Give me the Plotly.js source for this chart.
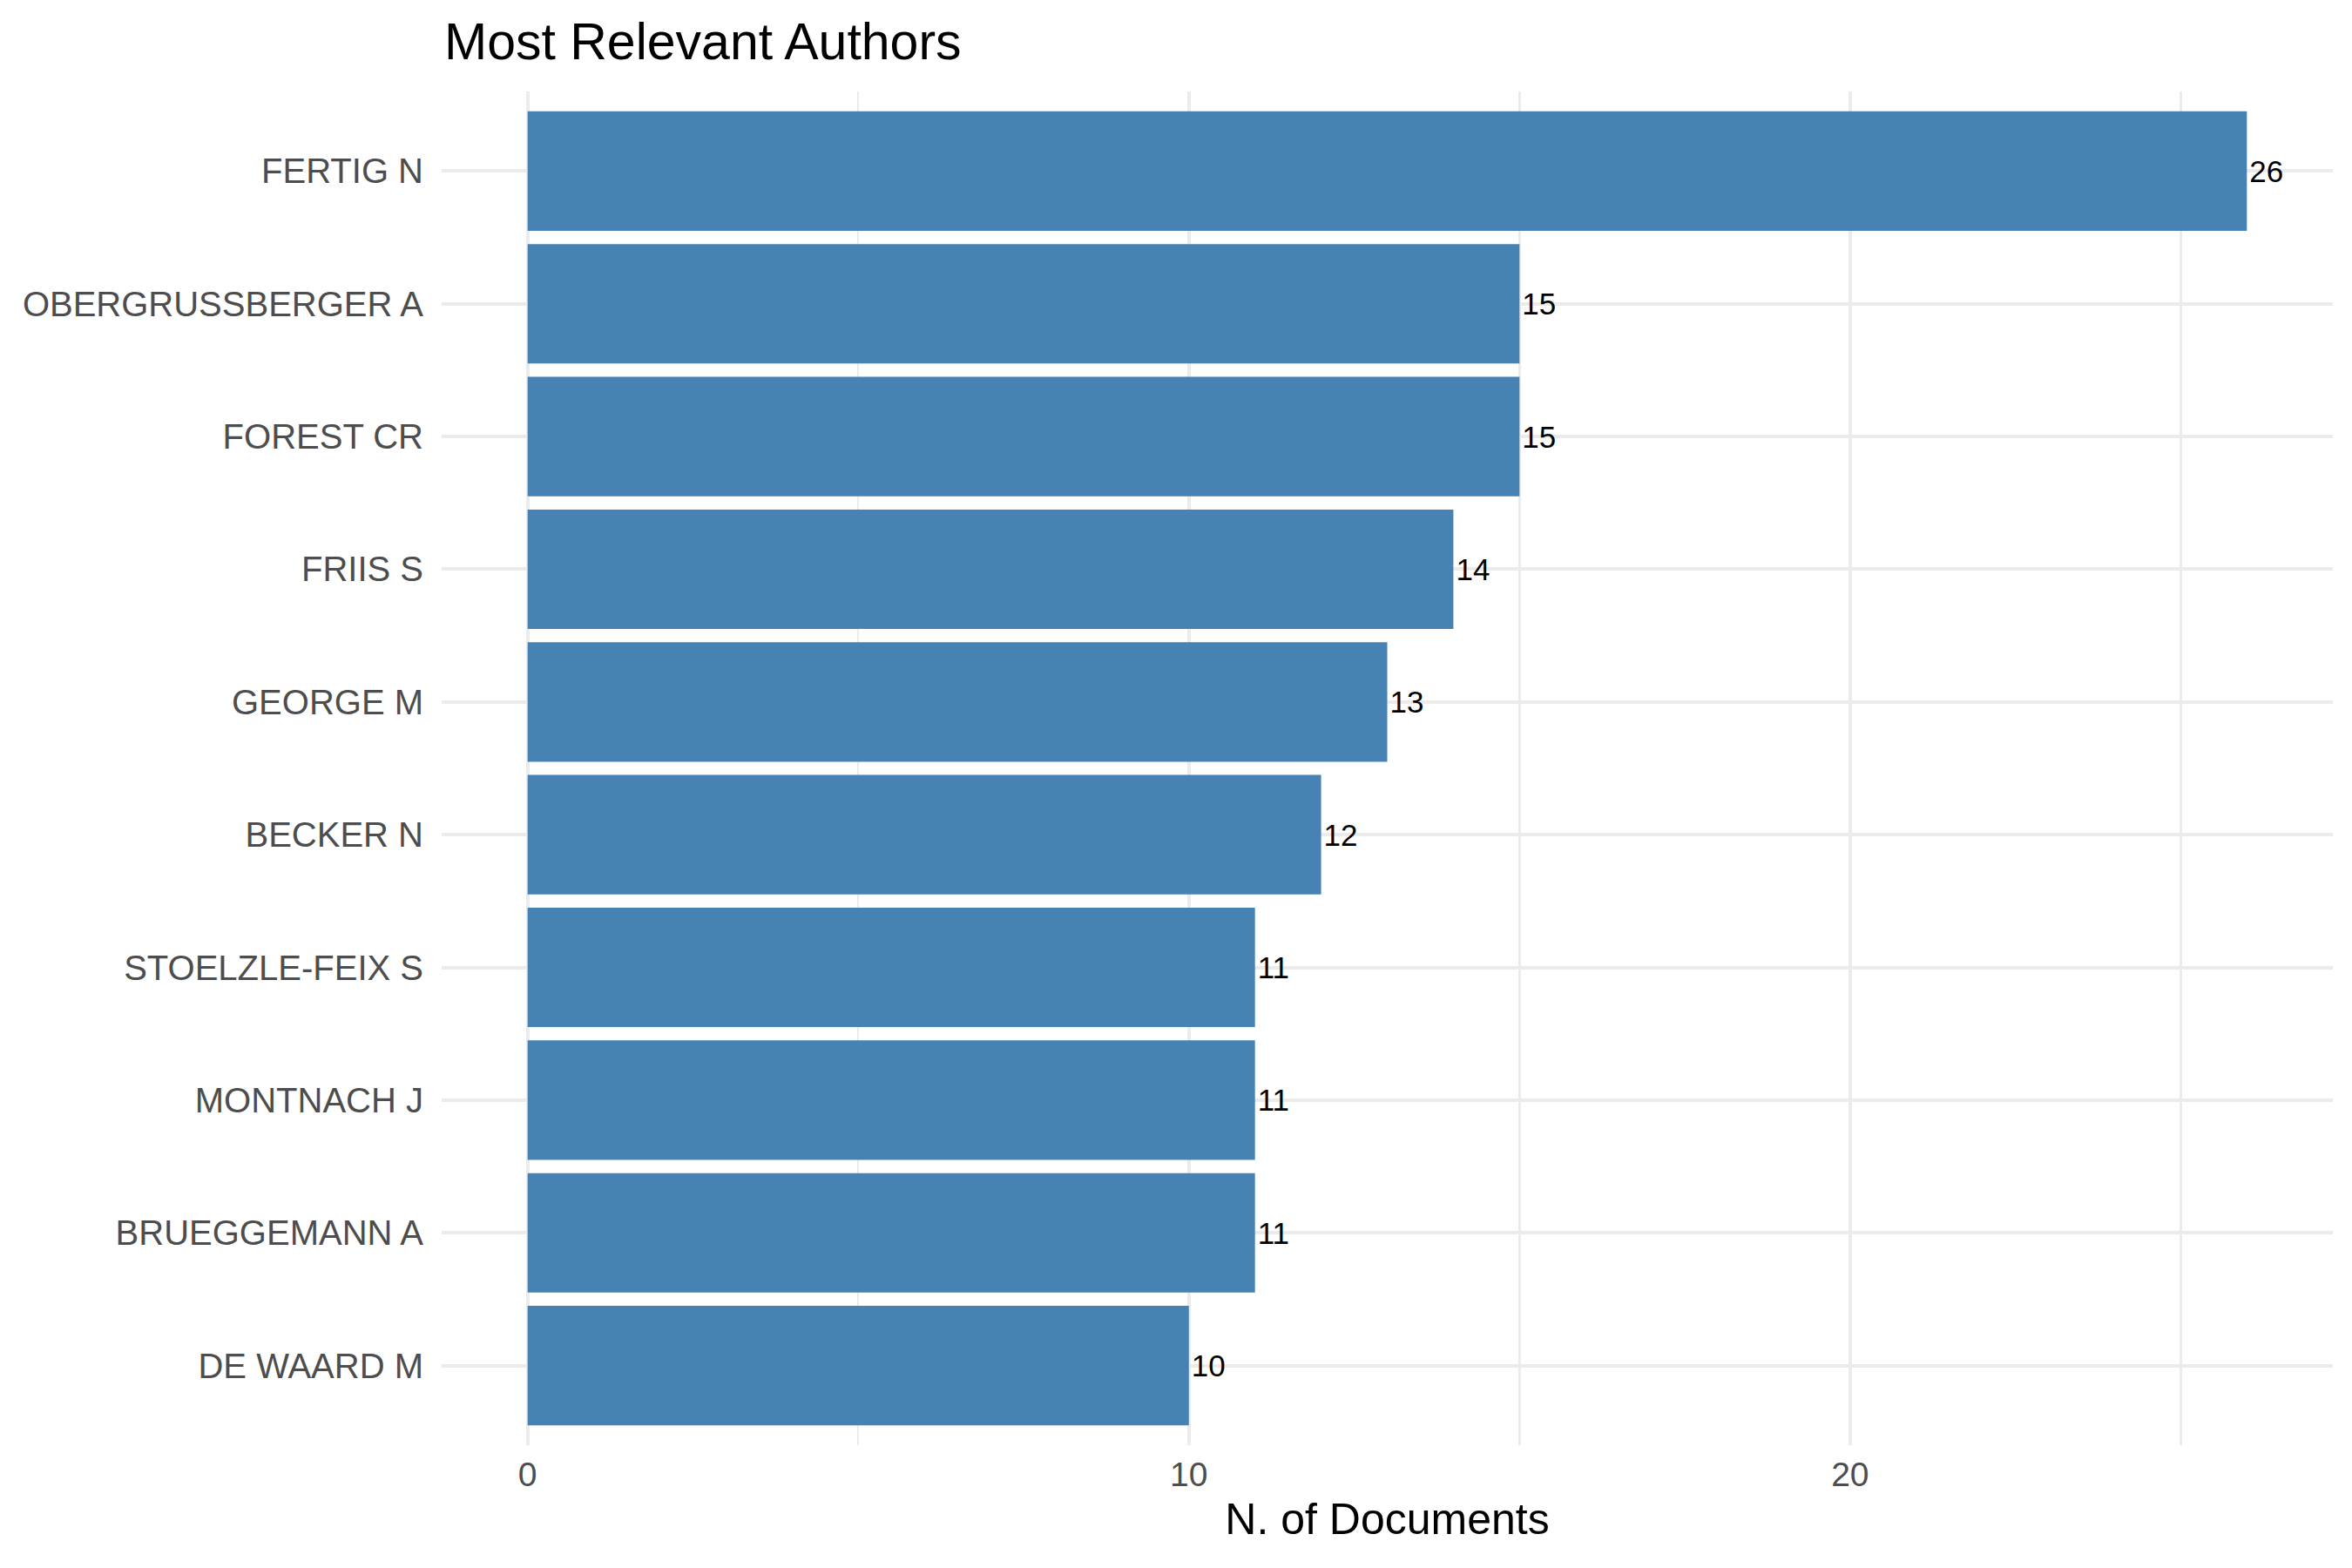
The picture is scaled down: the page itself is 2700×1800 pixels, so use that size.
<!DOCTYPE html>
<html>
<head>
<meta charset="utf-8">
<script src="https://cdn.plot.ly/plotly-3.0.1.min.js"></script>
<style>
  html, body { margin: 0; padding: 0; background: #ffffff; }
  #chart { width: 2700px; height: 1800px; }
</style>
</head>
<body>
<div id="chart"></div>
<script>
// Authors ranked by number of documents (top of chart first)
const authors = [
  "FERTIG N",
  "OBERGRUSSBERGER A",
  "FOREST CR",
  "FRIIS S",
  "GEORGE M",
  "BECKER N",
  "STOELZLE-FEIX S",
  "MONTNACH J",
  "BRUEGGEMANN A",
  "DE WAARD M"
];
const documents = [26, 15, 15, 14, 13, 12, 11, 11, 11, 10];
const xTickVals = [0, 10, 20];
const xTickText = ["0", "10", "20"];

const FONT = "Liberation Sans, Arial, Helvetica, sans-serif";
const BAR_COLOR = "#4682B4";
const GRID = "#EBEBEB";

const bars = {
  type: "bar",
  orientation: "h",
  y: authors,
  x: documents,
  width: 0.9,
  marker: { color: BAR_COLOR, line: { width: 0 } },
  text: documents.map(String),
  textposition: "outside",
  cliponaxis: false,
  textfont: { family: FONT, size: 35, color: "#000000" },
  hoverinfo: "x+y"
};

const layout = {
  width: 2700,
  height: 1800,
  paper_bgcolor: "#ffffff",
  plot_bgcolor: "#ffffff",
  margin: { l: 507, r: 22, t: 105, b: 141 },
  showlegend: false,
  font: { family: FONT },
  title: {
    text: "Most Relevant Authors",
    font: { family: FONT, size: 59, color: "#000000" },
    xref: "container",
    yref: "container",
    x: 510 / 2700,
    xanchor: "left",
    y: 1 - 47 / 1800,
    yanchor: "middle"
  },
  xaxis: {
    range: [-1.3, 27.3],
    tickvals: xTickVals,
    ticktext: xTickText,
    ticks: "",
    showline: false,
    zeroline: false,
    showgrid: true,
    gridcolor: GRID,
    gridwidth: 4,
    minor: { dtick: 5, tick0: 0, showgrid: true, gridcolor: GRID, gridwidth: 2.5, ticks: "" },
    tickfont: { family: FONT, size: 39, color: "#4D4D4D" },
    ticklabelstandoff: 7,
    title: {
      text: "N. of Documents",
      font: { family: FONT, size: 50, color: "#000000" },
      standoff: 12
    },
    automargin: false,
    fixedrange: true
  },
  yaxis: {
    type: "category",
    categoryorder: "array",
    categoryarray: authors.slice().reverse(),
    range: [-0.6, authors.length - 0.4],
    ticks: "",
    showline: false,
    zeroline: false,
    showgrid: true,
    gridcolor: GRID,
    gridwidth: 4,
    tickfont: { family: FONT, size: 40, color: "#4D4D4D" },
    ticklabelstandoff: 20,
    automargin: false,
    fixedrange: true
  },
  bargap: 0.1
};

Plotly.newPlot("chart", [bars], layout, { displayModeBar: false, staticPlot: true });
</script>
</body>
</html>
